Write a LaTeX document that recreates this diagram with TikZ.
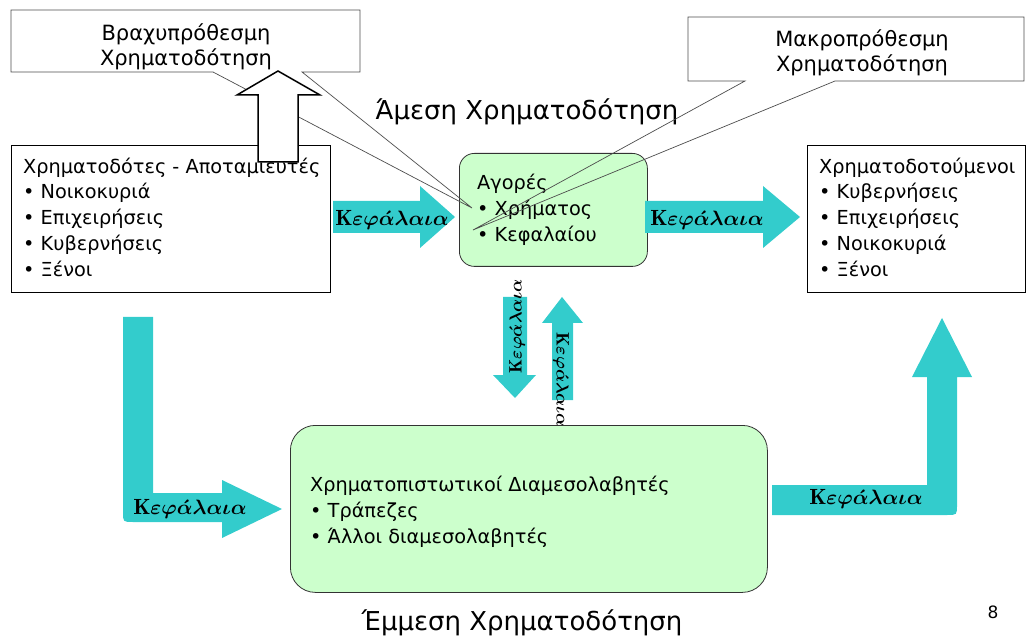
\documentclass[tikz,border=0pt]{standalone}
\usepackage{amsmath}
\usepackage{fontspec}
\newfontfamily\grfont{DejaVu Sans}
\definecolor{flowcol}{RGB}{51,204,204}
\definecolor{boxgreen}{RGB}{204,255,204}
\newcommand\kef{$\mathbf{K}\boldsymbol{\varepsilon\varphi\acute{\alpha}\lambda\alpha\iota\alpha}$}
\tikzset{
  flow/.style={fill=flowcol},
  plainbox/.style={draw, line width=1pt, anchor=north west},
  greenbox/.style={draw=black!80, fill=boxgreen, rounded corners=15pt, line width=0.8pt, anchor=north west},
  callout/.style={draw=black!70, line width=0.7pt},
  txt/.style={font=\grfont\fontsize{19.3}{26}\selectfont, align=left, inner sep=0pt, anchor=base west},
  calltxt/.style={font=\grfont\fontsize{21}{25}\selectfont, align=center, inner sep=0pt, anchor=base},
  title/.style={font=\grfont\fontsize{26}{30}\selectfont, inner sep=0pt, anchor=base},
  lbl/.style={font=\fontsize{22}{22}\selectfont, inner sep=0pt},
  vlbl/.style={font=\fontsize{18}{18}\selectfont, inner sep=0pt}
}
\begin{document}
\begin{tikzpicture}[x=1pt,y=-1pt]
\useasboundingbox (0,0) rectangle (1028,644);

% the four boxes
\node[plainbox, minimum width=319pt, minimum height=147pt] (src) at (11,145) {};
\node[plainbox, minimum width=218pt, minimum height=147pt] (dst) at (807,145) {};
\node[greenbox, minimum width=188pt, minimum height=113pt] (mkt) at (459,153) {};
\node[greenbox, rounded corners=25pt, minimum width=477pt, minimum height=167pt] (fin) at (290,425) {};

% texts, placed at the baseline of their last line
\node[txt] (srct) at (23,277) {Χρηματοδότες - Αποταμιευτές\\• Νοικοκυριά\\• Επιχειρήσεις\\• Κυβερνήσεις\\• Ξένοι};
\node[txt] (dstt) at (819,277) {Χρηματοδοτούμενοι\\• Κυβερνήσεις\\• Επιχειρήσεις\\• Νοικοκυριά\\• Ξένοι};
\node[txt] (mktt) at (477,242) {Αγορές\\• Χρήματος\\• Κεφαλαίου};
\node[txt] (fint) at (310,543) {Χρηματοπιστωτικοί Διαμεσολαβητές\\• Τράπεζες\\• Άλλοι διαμεσολαβητές};

% titles
\node[title] (direct) at (527,120) {Άμεση Χρηματοδότηση};
\node[title] (indirect) at (522,630) {Έμμεση Χρηματοδότηση};
\node[font=\grfont\fontsize{17}{20}\selectfont] (page) at (993,612) {8};

% callouts
\coordinate (tipS) at (472,208);
\coordinate (tipL) at (473,230);
\draw[callout] (213,72) -- (11,72) -- (11,10) -- (360,10) -- (360,72) -- (302,72) -- (tipS) -- cycle;
\node[calltxt] (shortt) at (186,66) {Βραχυπρόθεσμη\\Χρηματοδότηση};
\draw[callout] (745,81) -- (688,81) -- (688,17) -- (1024,17) -- (1024,81) -- (835,81) -- (tipL) -- cycle;
\node[calltxt] (longt) at (862,72) {Μακροπρόθεσμη\\Χρηματοδότηση};

% hollow arrow
\draw[line width=1.5pt, fill=white] (258,162) -- (258,95) -- (237,95) -- (278,71) -- (320,95) -- (298,95) -- (298,162) -- cycle;

% flows of capital
\fill[flow] (333,201) -- (420,201) -- (420,186) -- (455,217) -- (420,248) -- (420,233) -- (333,233) -- cycle;
\fill[flow] (645,201) -- (763,201) -- (763,186) -- (800,217) -- (763,248) -- (763,233) -- (645,233) -- cycle;
\fill[flow] (503,297) -- (527,297) -- (527,375) -- (536,375) -- (515,398) -- (493,375) -- (503,375) -- cycle;
\fill[flow] (552,400) -- (552,323) -- (542,323) -- (562,297) -- (583,323) -- (573,323) -- (573,400) -- cycle;
\fill[flow] (123,317) -- (153,317) -- (153,493) -- (222,493) -- (222,480) -- (282,509) -- (222,538) -- (222,522) -- (133,522) .. controls (123,522) .. (123,512) -- cycle;
\fill[flow] (772,485) -- (927,485) -- (927,377) -- (912,377) -- (942,318) -- (972,377) -- (957,377) -- (957,505) .. controls (957,515) .. (947,515) -- (772,515) -- cycle;

\node[lbl, anchor=base] (k1) at (392,226) {\kef};
\node[lbl, anchor=base] (k2) at (707,226) {\kef};
\node[vlbl, rotate=90] (k3) at (517,326) {\kef};
\node[vlbl, rotate=-90] (k4) at (561,380) {\kef};
\node[lbl, anchor=base] (k5) at (190,514) {\kef};
\node[lbl, anchor=base] (k6) at (866,504) {\kef};
\end{tikzpicture}
\end{document}
